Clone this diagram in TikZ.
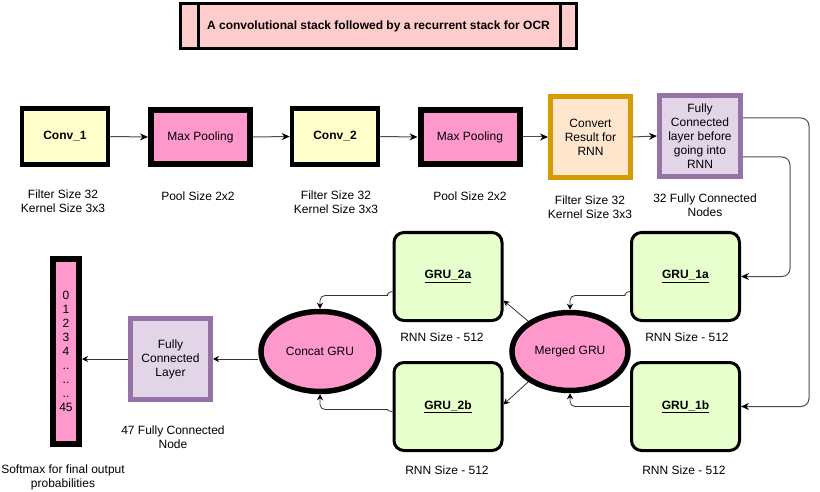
\documentclass[tikz,border=0pt]{standalone}
\usepackage{fontspec}
\setmainfont{Liberation Sans}
\usetikzlibrary{arrows.meta,shapes.geometric}

\definecolor{convfill}{HTML}{FFFFCC}
\definecolor{poolfill}{HTML}{FF99CC}
\definecolor{grufill}{HTML}{E6FFCC}
\definecolor{orangeline}{HTML}{D79B00}
\definecolor{orangefill}{HTML}{FFE6CC}
\definecolor{purpleline}{HTML}{9673A6}
\definecolor{purplefill}{HTML}{E1D5E7}
\definecolor{titlefill}{HTML}{FFCCCC}

\tikzset{
  convbox/.style={draw, line width=4.5pt, fill=convfill, minimum width=86pt, minimum height=56pt, inner sep=0pt, font=\fontsize{12}{14}\selectfont\bfseries},
  poolbox/.style={draw, line width=6pt, fill=poolfill, minimum width=99pt, minimum height=54pt, inner sep=0pt},
  convertbox/.style={draw=orangeline, line width=5pt, fill=orangefill, minimum width=80pt, minimum height=81pt, inner sep=0pt},
  densebox/.style={draw=purpleline, line width=5pt, fill=purplefill, minimum width=81pt, minimum height=81pt, inner sep=0pt},
  grubox/.style={draw, line width=3pt, rounded corners=10pt, fill=grufill, minimum width=108pt, minimum height=88pt, inner sep=0pt, font=\fontsize{12}{14}\selectfont\bfseries},
  gruoval/.style={ellipse, draw, line width=5.5pt, fill=poolfill, inner sep=0pt},
  conn/.style={draw=black!70, line width=1pt, -{Stealth[length=8pt,width=7pt,black]}},
  thinconn/.style={draw=black!80, line width=0.8pt, -{Stealth[length=6pt,width=6pt,black]}},
}

\begin{document}
\begin{tikzpicture}[x=1pt,y=-1pt, every node/.style={font=\fontsize{12}{14}\selectfont, align=center}]
    \useasboundingbox (0,0) rectangle (820,492);

    % title
    \node[draw, line width=3pt, fill=titlefill, minimum width=396pt, minimum height=45pt, font=\fontsize{12}{14}\selectfont\bfseries] (title) at (378.5,26) {A convolutional stack followed by a recurrent stack for OCR};
    \draw[line width=3pt] ([xshift=19pt]title.north west) -- ([xshift=19pt]title.south west);
    \draw[line width=3pt] ([xshift=-18pt]title.north east) -- ([xshift=-18pt]title.south east);

    % convolutional stack
    \node[convbox] (conv1) at (65,136.5) {Conv\_1};
    \node[poolbox] (pool1) at (200.5,137) {Max Pooling};
    \node[convbox] (conv2) at (335,136.5) {Conv\_2};
    \node[poolbox] (pool2) at (470,137) {Max Pooling};
    \node[convertbox] (convert) at (590.5,137) {Convert\\Result for\\RNN};
    \node[densebox] (dense1) at (700,136) {Fully\\Connected\\layer before\\going into\\RNN};

    \node (conv1txt) at (63,201.5) {Filter Size 32\\Kernel Size 3x3};
    \node (pool1txt) at (198,196) {Pool Size 2x2};
    \node (conv2txt) at (336,202) {Filter Size 32\\Kernel Size 3x3};
    \node (pool2txt) at (470,196) {Pool Size 2x2};
    \node (converttxt) at (590,207) {Filter Size 32\\Kernel Size 3x3};
    \node (dense1txt) at (705,205) {32 Fully Connected\\Nodes};

    \draw[conn] (conv1.east) -- (pool1.west);
    \draw[conn] (pool1.east) -- (conv2.west);
    \draw[conn] (conv2.east) -- (pool2.west);
    \draw[conn] (pool2.east) -- (convert.west);
    \draw[conn] (convert.east) -- (dense1.west);

    % recurrent stack
    \node[grubox] (gru1a) at (685.5,276.5) {\underline{GRU\_1a}};
    \node[grubox] (gru1b) at (685.5,406.5) {\underline{GRU\_1b}};
    \node[grubox] (gru2a) at (448,276.5) {\underline{GRU\_2a}};
    \node[grubox] (gru2b) at (448,406.5) {\underline{GRU\_2b}};
    \node[gruoval, minimum width=116pt, minimum height=78pt] (merged) at (570,351.5) {Merged GRU};
    \node[gruoval, minimum width=118pt, minimum height=80pt] (concat) at (320,351.5) {Concat GRU};

    \node (gru2atxt) at (442,337) {RNN Size - 512};
    \node (gru1atxt) at (687,337) {RNN Size - 512};
    \node (gru2btxt) at (447,470) {RNN Size - 512};
    \node (gru1btxt) at (684,470) {RNN Size - 512};

    \coordinate (rail1) at (809,0);
    \coordinate (rail2) at (790,0);
    \draw[conn, rounded corners=8pt] ([yshift=18pt]dense1.east) -| (rail1 |- gru1b.east) -- (gru1b.east);
    \draw[conn, rounded corners=8pt] ([yshift=-21pt]dense1.east) -| (rail2 |- gru1a.east) -- (gru1a.east);

    \draw[thinconn, rounded corners=5pt] ([yshift=-15pt]gru1a.west) to[out=180,in=0] ++(-10,4) -| (merged.north);
    \draw[thinconn, rounded corners=5pt] (gru1b.west) -| (merged.south);
    \draw[thinconn] (merged.144) -- ([yshift=-24pt]gru2a.east);
    \draw[thinconn] (merged.216) -- ([yshift=2pt]gru2b.east);
    \draw[thinconn, rounded corners=5pt] ([yshift=-15pt]gru2a.west) to[out=180,in=0] ++(-10,4) -| (concat.north);
    \draw[thinconn, rounded corners=5pt] ([yshift=-5pt]gru2b.west) to[out=180,in=0] ++(-10,-2) -| (concat.south);

    % output
    \node[densebox, minimum width=80pt] (dense2) at (170.5,359) {Fully\\Connected\\Layer};
    \node (dense2txt) at (173,437.5) {47 Fully Connected\\Node};
    \node[draw, line width=6pt, fill=poolfill, minimum width=26pt, minimum height=185pt, inner sep=0pt] (softmax) at (66,351.5) {0\\1\\2\\3\\4\\..\\..\\..\\45};
    \node (softmaxtxt) at (63,477.5) {Softmax for final output\\probabilities};

    \draw[thinconn] (concat.west |- dense2) -- (dense2.east);
    \draw[thinconn] (dense2.west) -- (dense2.west -| softmax.east);

\end{tikzpicture}
\end{document}
